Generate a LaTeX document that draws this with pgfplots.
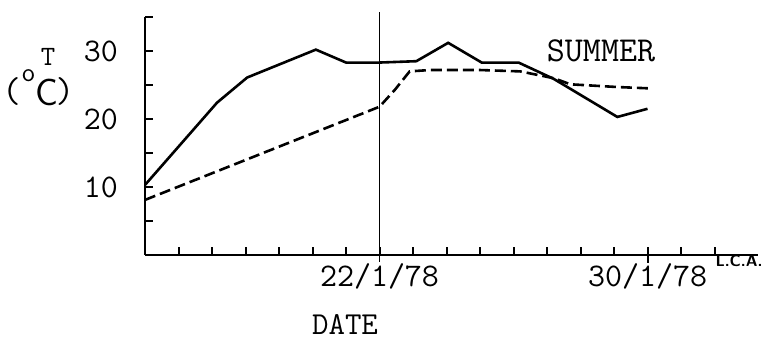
\documentclass[border=0pt]{standalone}
\usepackage{fontspec}
\usepackage{pgfplots}
\pgfplotsset{compat=1.18}
\begin{document}
\begin{tikzpicture}
\useasboundingbox (0,0) rectangle (384.5pt,170pt);
\begin{axis}[
  anchor=origin, at={(72.5pt,42.5pt)},
  x=16.75pt, y=3.4pt,
  xmin=0, xmax=18.3, ymin=0, ymax=35,
  axis lines=left,
  axis line style={-, line width=1.2pt},
  clip=false,
  xtick={1,...,17},
  xticklabels={,,,,,,22/1/78,,,,,,,,30/1/78,,},
  ytick={5,10,...,35},
  yticklabels={,10,,20,,30,},
  tick align=inside,
  major tick length=3.8pt,
  tick style={line width=1pt, black},
  ticklabel style={font=\ttfamily\fontsize{16.5}{16.5}\selectfont},
  yticklabel style={xshift=-10pt},
  xticklabel style={yshift=-1pt},
  extra x ticks={15},
  extra x tick labels={},
  extra x tick style={tick align=center, major tick length=8pt},
]
\addplot[black, line width=0.5pt] coordinates {(7,-1) (7,35.7)};
\addplot[black, line width=1.3pt] coordinates {
  (0,10.3) (2.15,22.4) (3.05,26.1) (5.1,30.2) (6.0,28.3) (7,28.3)
  (8.1,28.5) (9.05,31.2) (10.05,28.3) (11.15,28.3) (12.2,25.9)
  (14.1,20.3) (15,21.5)};
\addplot[black, line width=1.3pt, dash pattern=on 5.5pt off 2.5pt] coordinates {
  (0,8.1) (7,21.8) (7.46,24.3) (7.9,27.0) (8.5,27.2) (10,27.2)
  (11.2,27.0) (12.2,26.0) (12.7,25.1) (14.1,24.7) (15.07,24.5)};
\end{axis}
\node[font=\ttfamily\fontsize{17.5}{17.5}\selectfont] at (300.5pt,144.5pt) {SUMMER};
\node[font=\ttfamily\fontsize{16}{16}\selectfont, inner sep=0pt, anchor=base] at (172.5pt,2.8pt) {DATE};
\node[font=\ttfamily\fontsize{14}{14}\selectfont] at (24pt,141.5pt) {T};
\node[font=\ttfamily\fontsize{18}{18}\selectfont] at (5.8pt,124pt) {(};
\node[font=\sffamily\fontsize{13}{13}\selectfont] at (14.3pt,132pt) {o};
\node[font=\sffamily\fontsize{19}{19}\selectfont] at (23.3pt,123.8pt) {C};
\node[font=\ttfamily\fontsize{18}{18}\selectfont] at (32.5pt,124pt) {)};
\node[font=\fontsize{8}{8}\selectfont\sffamily\bfseries] at (369.5pt,39.5pt) {L.C.A.};
\end{tikzpicture}
\end{document}
